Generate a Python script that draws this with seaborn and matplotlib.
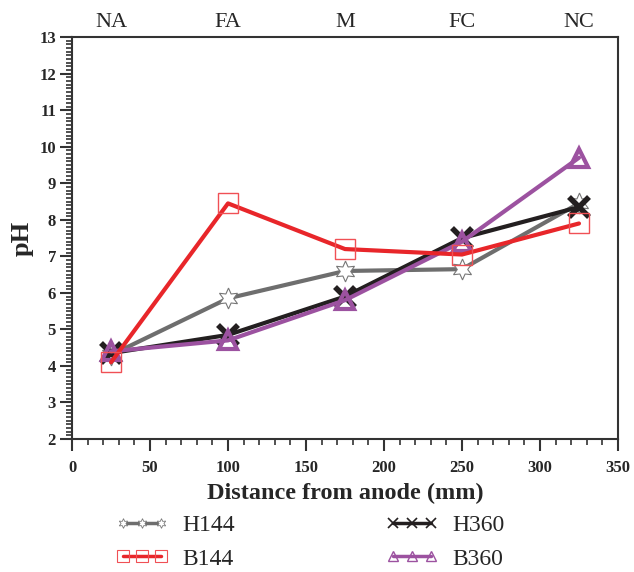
import matplotlib
matplotlib.use("Agg")
import matplotlib.pyplot as plt
import seaborn as sns
import pandas as pd
from matplotlib.ticker import MultipleLocator
from matplotlib.lines import Line2D

# data
distance = [25, 100, 175, 250, 325]
zones = ['NA', 'FA', 'M', 'FC', 'NC']
h144 = [4.3, 5.85, 6.6, 6.65, 8.45]
b144 = [4.1, 8.45, 7.2, 7.05, 7.9]
h360 = [4.35, 4.85, 5.9, 7.5, 8.35]
b360 = [4.4, 4.7, 5.8, 7.4, 9.7]

df = pd.DataFrame({'dist': distance, 'H144': h144, 'B144': b144,
                   'H360': h360, 'B360': b360})

sns.set_style('ticks')
plt.rcParams['font.family'] = ['Liberation Serif', 'DejaVu Serif']

fig = plt.figure(figsize=(6.34, 5.72), dpi=100)
ax = fig.add_axes([0.1136, 0.2325, 0.9747 - 0.1136, 0.935 - 0.2325])

styles = {
    'H144': dict(color='#6e6e6e', marker=(6, 1, 0), markersize=15, mfc='white', mec='#777777', mew=0.8),
    'B144': dict(color='#e8262a', marker='s', markersize=14, mfc='none', mec='#f05055', mew=1.0),
    'H360': dict(color='#231f20', marker='x', markersize=15, mec='#231f20', mew=4),
    'B360': dict(color='#9c52a0', marker='^', markersize=13, mfc='none', mec='#9c52a0', mew=3),
}
order = ['H144', 'H360', 'B360', 'B144']
for name in order:
    sns.lineplot(data=df, x='dist', y=name, ax=ax, lw=3, legend=False, **styles[name])

ax.set_xlim(0, 350)
ax.set_ylim(2, 13)
ax.xaxis.set_major_locator(MultipleLocator(50))
ax.xaxis.set_minor_locator(MultipleLocator(10))
ax.yaxis.set_major_locator(MultipleLocator(1))
ax.yaxis.set_minor_locator(MultipleLocator(0.1))
ax.tick_params(which='major', length=8.5, width=1.5, color='#333333', pad=3)
ax.tick_params(which='minor', length=4.5, width=1.2, color='#333333')
ax.tick_params(axis='x', which='major', pad=6.5)
for lab in ax.get_xticklabels() + ax.get_yticklabels():
    lab.set_fontweight('bold')
    lab.set_fontsize(12)
for sp in ax.spines.values():
    sp.set_visible(True)
    sp.set_linewidth(1.5)
    sp.set_color('#333333')

ax.set_xlabel('Distance from anode (mm)', fontsize=17.5, fontweight='bold', labelpad=5)
ax.set_ylabel('pH', fontsize=19, fontweight='bold', labelpad=4)

top = ax.secondary_xaxis('top')
top.set_xticks(distance)
top.set_xticklabels(zones, fontsize=16)
top.tick_params(length=0, pad=4)
top.spines['top'].set_visible(False)

# smaller markers in the legend, as in the original
leg_style = {
    'H144': dict(marker=(6, 1, 0), markersize=7, mfc='white', mec='#777777', mew=0.6),
    'B144': dict(marker='s', markersize=8, mfc='none', mec='#f05055', mew=0.8),
    'H360': dict(marker='x', markersize=7, mec='#231f20', mew=1.2),
    'B360': dict(marker='^', markersize=7, mfc='none', mec='#9c52a0', mew=1.0),
}
leg_order = ['H144', 'B144', 'H360', 'B360']
handles = [Line2D([0, 1], [0, 0], color=styles[k]['color'], lw=2.5, **leg_style[k])
           for k in leg_order]
fig.legend(handles, leg_order, ncol=2, loc='upper left',
           bbox_to_anchor=(0.15, 0.137), frameon=False, fontsize=17,
           numpoints=3, handlelength=2.2, columnspacing=6.4,
           labelspacing=0.5, handletextpad=0.6)

fig.savefig('out.png', dpi=100)
